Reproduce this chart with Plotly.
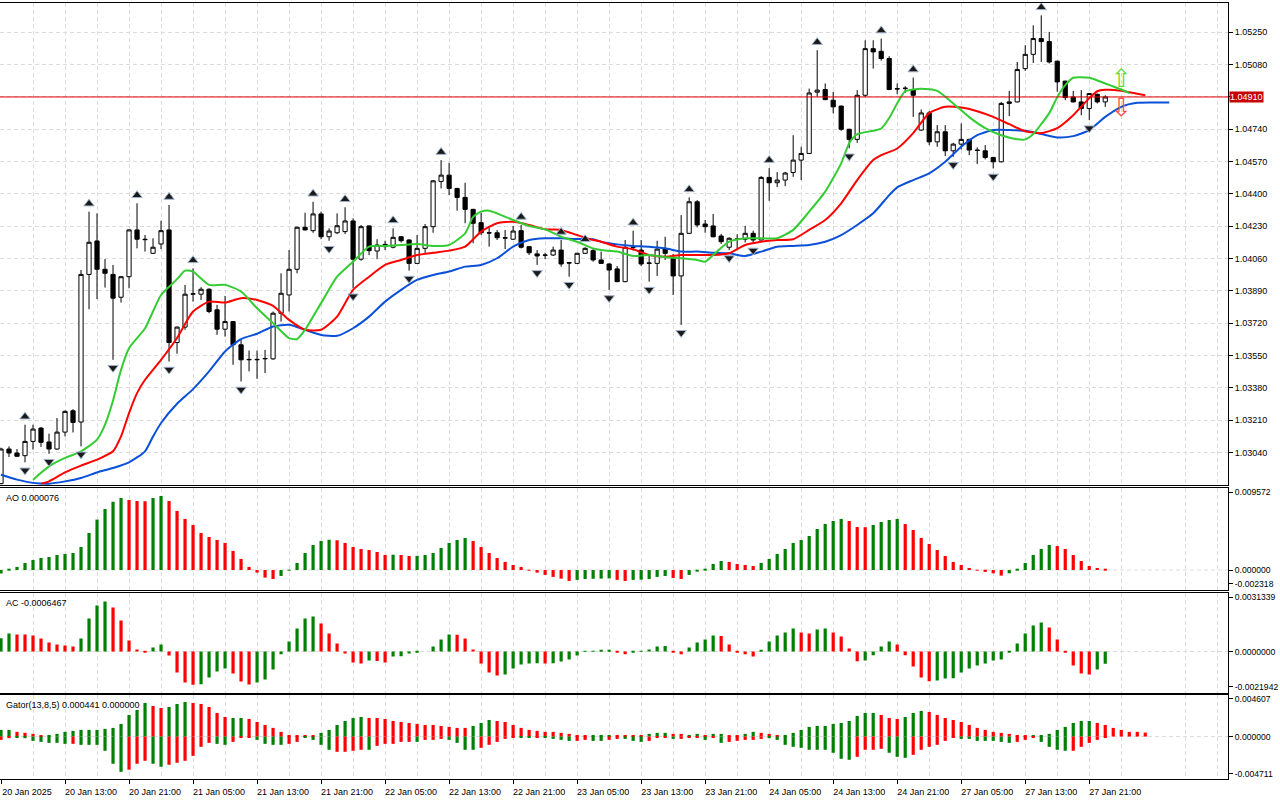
import plotly.graph_objects as go
from plotly.subplots import make_subplots

# ---------------------------------------------------------------- data
# EURUSD H1 candles, bar index 0 .. 138
opens = [1.02877, 1.03059, 1.03038, 1.03024, 1.03099, 1.03169, 1.03096, 1.03059, 1.03148, 1.03260,
         1.03201, 1.03977, 1.04153, 1.04004, 1.03977, 1.03857, 1.03965, 1.04211, 1.04162, 1.04088,
         1.04137, 1.04211, 1.03619, 1.03700, 1.03873, 1.03873, 1.03899, 1.03791, 1.03689, 1.03729,
         1.03607, 1.03528, 1.03528, 1.03533, 1.03533, 1.03773, 1.03869, 1.04004, 1.04225, 1.04207,
         1.04295, 1.04175, 1.04196, 1.04202, 1.04258, 1.04057, 1.04232, 1.04100, 1.04135, 1.04120,
         1.04175, 1.04158, 1.04035, 1.04114, 1.04228, 1.04466, 1.04499, 1.04429, 1.04382, 1.04319,
         1.04249, 1.04196, 1.04196, 1.04170, 1.04162, 1.04207, 1.04123, 1.04085, 1.04079, 1.04079,
         1.04105, 1.04039, 1.04035, 1.04088, 1.04102, 1.04053, 1.04032, 1.04006, 1.03939, 1.04120,
         1.04105, 1.04035, 1.04035, 1.04110, 1.04062, 1.03969, 1.04193, 1.04359, 1.04242, 1.04232,
         1.04179, 1.04120, 1.04162, 1.04162, 1.04193, 1.04158, 1.04487, 1.04459, 1.04473, 1.04513,
         1.04578, 1.04613, 1.04935, 1.04949, 1.04893, 1.04862, 1.04740, 1.04687, 1.04919, 1.05164,
         1.05150, 1.05112, 1.04954, 1.04954, 1.04949, 1.04736, 1.04826, 1.04674, 1.04727, 1.04627,
         1.04662, 1.04687, 1.04631, 1.04627, 1.04592, 1.04569, 1.04876, 1.04884, 1.05059, 1.05134,
         1.05217, 1.05201, 1.05098, 1.04993, 1.04910, 1.04884, 1.04849, 1.04924, 1.04884]
highs = [1.03066, 1.03073, 1.03059, 1.03187, 1.03187, 1.03175, 1.03140, 1.03222, 1.03262, 1.03269,
         1.04000, 1.04307, 1.04298, 1.04058, 1.04027, 1.03968, 1.04214, 1.04351, 1.04184, 1.04167,
         1.04259, 1.04342, 1.03703, 1.03922, 1.04009, 1.03910, 1.03904, 1.03817, 1.03864, 1.03732,
         1.03633, 1.03577, 1.03577, 1.03580, 1.03782, 1.03983, 1.04105, 1.04228, 1.04301, 1.04359,
         1.04307, 1.04219, 1.04298, 1.04330, 1.04272, 1.04237, 1.04235, 1.04162, 1.04154, 1.04219,
         1.04179, 1.04162, 1.04184, 1.04242, 1.04473, 1.04578, 1.04564, 1.04432, 1.04459, 1.04322,
         1.04301, 1.04232, 1.04211, 1.04211, 1.04232, 1.04237, 1.04126, 1.04105, 1.04091, 1.04123,
         1.04158, 1.04042, 1.04091, 1.04120, 1.04114, 1.04097, 1.04035, 1.04021, 1.04158, 1.04207,
         1.04158, 1.04079, 1.04154, 1.04175, 1.04085, 1.04289, 1.04382, 1.04368, 1.04263, 1.04295,
         1.04190, 1.04172, 1.04188, 1.04232, 1.04207, 1.04494, 1.04536, 1.04515, 1.04516, 1.04709,
         1.04648, 1.04954, 1.05156, 1.04981, 1.04937, 1.04865, 1.04743, 1.04946, 1.05208, 1.05208,
         1.05217, 1.05124, 1.04981, 1.04967, 1.05012, 1.04844, 1.04837, 1.04762, 1.04762, 1.04669,
         1.04771, 1.04690, 1.04645, 1.04657, 1.04595, 1.04884, 1.04942, 1.05094, 1.05182, 1.05287,
         1.05339, 1.05252, 1.05101, 1.04996, 1.04942, 1.04946, 1.04931, 1.04928, 1.04919]
lows = [1.02874, 1.03017, 1.03017, 1.02989, 1.03056, 1.03070, 1.03034, 1.03055, 1.03125, 1.03146,
        1.03073, 1.03794, 1.03847, 1.03908, 1.03528, 1.03829, 1.03904, 1.04114, 1.04097, 1.04085,
        1.04110, 1.03519, 1.03560, 1.03686, 1.03834, 1.03843, 1.03773, 1.03659, 1.03650, 1.03502,
        1.03414, 1.03467, 1.03428, 1.03458, 1.03528, 1.03729, 1.03782, 1.03983, 1.04208, 1.04196,
        1.04162, 1.04154, 1.04189, 1.04189, 1.03904, 1.04049, 1.04079, 1.04057, 1.04105, 1.04114,
        1.04145, 1.03997, 1.04032, 1.04091, 1.04196, 1.04429, 1.04394, 1.04312, 1.04246, 1.04141,
        1.04184, 1.04123, 1.04158, 1.04110, 1.04158, 1.04114, 1.04079, 1.04027, 1.04057, 1.04074,
        1.04018, 1.03965, 1.04032, 1.04085, 1.04044, 1.04032, 1.03895, 1.03936, 1.03936, 1.04102,
        1.04021, 1.03939, 1.03969, 1.04053, 1.03869, 1.03712, 1.04190, 1.04225, 1.04196, 1.04172,
        1.04137, 1.04105, 1.04105, 1.04145, 1.04145, 1.04155, 1.04364, 1.04436, 1.04441, 1.04490,
        1.04473, 1.04610, 1.04910, 1.04893, 1.04823, 1.04732, 1.04640, 1.04669, 1.04910, 1.05059,
        1.05101, 1.04946, 1.04925, 1.04931, 1.04805, 1.04732, 1.04657, 1.04648, 1.04599, 1.04595,
        1.04634, 1.04604, 1.04557, 1.04582, 1.04534, 1.04566, 1.04809, 1.04881, 1.05047, 1.05089,
        1.05094, 1.05086, 1.04937, 1.04893, 1.04881, 1.04814, 1.04788, 1.04876, 1.04858]
closes = [1.03059, 1.03038, 1.03021, 1.03099, 1.03164, 1.03094, 1.03059, 1.03148, 1.03257, 1.03199,
          1.03977, 1.04146, 1.04004, 1.03983, 1.03852, 1.03965, 1.04211, 1.04162, 1.04160, 1.04120,
          1.04207, 1.03619, 1.03700, 1.03873, 1.03875, 1.03899, 1.03782, 1.03689, 1.03729, 1.03607,
          1.03528, 1.03530, 1.03530, 1.03535, 1.03773, 1.03878, 1.04004, 1.04225, 1.04211, 1.04295,
          1.04175, 1.04205, 1.04233, 1.04258, 1.04057, 1.04228, 1.04102, 1.04132, 1.04123, 1.04172,
          1.04154, 1.04035, 1.04114, 1.04228, 1.04469, 1.04499, 1.04429, 1.04382, 1.04319, 1.04246,
          1.04196, 1.04195, 1.04170, 1.04168, 1.04205, 1.04120, 1.04091, 1.04074, 1.04078, 1.04105,
          1.04032, 1.04037, 1.04088, 1.04114, 1.04053, 1.04035, 1.04000, 1.03939, 1.04120, 1.04121,
          1.04032, 1.04037, 1.04110, 1.04088, 1.03969, 1.04193, 1.04359, 1.04237, 1.04228, 1.04175,
          1.04149, 1.04167, 1.04163, 1.04193, 1.04158, 1.04487, 1.04459, 1.04473, 1.04510, 1.04578,
          1.04613, 1.04931, 1.04946, 1.04896, 1.04858, 1.04740, 1.04687, 1.04919, 1.05164, 1.05147,
          1.05112, 1.04949, 1.04952, 1.04956, 1.04919, 1.04826, 1.04674, 1.04727, 1.04627, 1.04662,
          1.04687, 1.04631, 1.04629, 1.04592, 1.04569, 1.04876, 1.04884, 1.05054, 1.05134, 1.05217,
          1.05201, 1.05094, 1.04989, 1.04907, 1.04884, 1.04849, 1.04928, 1.04884, 1.04910]

# Alligator lines (bar index, price) - jaw/teeth/lips are shifted forward
jaw_x = [0, 2, 4, 6, 8, 10, 12, 14, 16, 18, 19, 20, 22, 24, 26, 28, 30, 32, 34, 36, 38, 40,
         42, 44, 46, 48, 50, 52, 54, 56, 58, 60, 62, 64, 66, 68, 70, 72, 74, 75, 77, 79, 81, 83,
         85, 87, 89, 91, 93, 95, 97, 99, 101, 103, 105, 107, 109, 111, 112, 114, 116, 118, 120,
         122, 124, 126, 128, 130, 132, 134, 136, 138, 140, 142, 144, 146]
jaw_y = [1.02924, 1.02898, 1.02881, 1.02877, 1.02889, 1.02907, 1.02936, 1.02959, 1.02989, 1.03047,
         1.03125, 1.03196, 1.03297, 1.03374, 1.03467, 1.03572, 1.03637, 1.03665, 1.03703, 1.03712,
         1.03686, 1.03659, 1.03654, 1.03694, 1.03755, 1.03834, 1.03896, 1.03948, 1.03974, 1.03992,
         1.04018, 1.04027, 1.04062, 1.04123, 1.04158, 1.04167, 1.04167, 1.04163, 1.04162, 1.04149,
         1.04135, 1.04127, 1.04123, 1.04114, 1.04097, 1.04097, 1.04091, 1.04088, 1.04074, 1.04097,
         1.04123, 1.04127, 1.04132, 1.04149, 1.04184, 1.04237, 1.04298, 1.04394, 1.04435, 1.04473,
         1.04508, 1.04569, 1.04648, 1.04709, 1.04736, 1.04736, 1.04732, 1.04715, 1.04697, 1.04704,
         1.04736, 1.04805, 1.04858, 1.04879, 1.04881, 1.04881]
teeth_x = [5, 6, 8, 10, 12, 14, 15, 16, 17, 18, 20, 22, 24, 26, 28, 30, 32, 34, 36, 38, 40, 42,
           44, 46, 48, 50, 52, 54, 56, 58, 60, 62, 64, 66, 68, 70, 72, 74, 75, 77, 79, 81, 83, 85,
           87, 89, 91, 93, 95, 97, 99, 101, 103, 105, 107, 109, 110, 112, 114, 116, 118, 120, 122,
           124, 126, 128, 130, 132, 134, 136, 137, 138, 140, 142, 143]
teeth_y = [1.02877, 1.02889, 1.02936, 1.02972, 1.03003, 1.03047, 1.03125, 1.03248, 1.03353, 1.03423,
           1.03528, 1.03643, 1.03782, 1.03834, 1.03829, 1.03852, 1.03843, 1.03812, 1.03738, 1.03686,
           1.03686, 1.03755, 1.03896, 1.03965, 1.04027, 1.04053, 1.04079, 1.04091, 1.04102, 1.04123,
           1.04202, 1.04246, 1.04254, 1.04237, 1.04214, 1.04211, 1.04184, 1.04158, 1.04149, 1.04123,
           1.04109, 1.04079, 1.04070, 1.04079, 1.04079, 1.04079, 1.04088, 1.04132, 1.04149, 1.04158,
           1.04162, 1.04211, 1.04263, 1.04351, 1.04473, 1.04578, 1.04604, 1.04639, 1.04720, 1.04825,
           1.04858, 1.04854, 1.04835, 1.04805, 1.04767, 1.04730, 1.04720, 1.04746, 1.04814, 1.04904,
           1.04940, 1.04948, 1.04943, 1.04927, 1.04919]
lips_x = [4, 6, 8, 10, 12, 13, 14, 15, 16, 18, 20, 22, 23, 24, 26, 28, 30, 32, 34, 36, 37, 38,
          40, 42, 44, 46, 48, 50, 52, 54, 56, 58, 59, 60, 61, 62, 64, 66, 68, 70, 72, 74, 75, 77,
          79, 81, 83, 85, 87, 88, 89, 91, 93, 95, 97, 99, 101, 103, 105, 106, 107, 109, 110, 111,
          112, 113, 115, 117, 119, 121, 123, 125, 127, 128, 129, 130, 131, 132, 133, 134, 136,
          138, 140, 141]
lips_y = [1.02898, 1.02968, 1.03012, 1.03047, 1.03108, 1.03187, 1.03314, 1.03475, 1.03589, 1.03694,
          1.03869, 1.03952, 1.03997, 1.03992, 1.03922, 1.03922, 1.03887, 1.03799, 1.03721, 1.03642,
          1.03637, 1.03686, 1.03826, 1.03965, 1.04044, 1.04123, 1.04127, 1.04132, 1.04137, 1.04127,
          1.04132, 1.04193, 1.04280, 1.04307, 1.04312, 1.04298, 1.04263, 1.04232, 1.04214, 1.04175,
          1.04149, 1.04114, 1.04105, 1.04097, 1.04074, 1.04079, 1.04067, 1.04062, 1.04053, 1.04044,
          1.04079, 1.04149, 1.04167, 1.04167, 1.04167, 1.04211, 1.04307, 1.04412, 1.04561, 1.04667,
          1.04714, 1.04732, 1.04744, 1.04799, 1.04877, 1.04940, 1.04953, 1.04942, 1.04876, 1.04804,
          1.04746, 1.04709, 1.04688, 1.04687, 1.04715, 1.04767, 1.04825, 1.04909, 1.04972, 1.05011,
          1.05011, 1.04981, 1.04949, 1.04931]

# Fractal bars
fractal_up = [3, 11, 17, 21, 24, 39, 43, 49, 55, 65, 70, 73, 79, 86, 96, 102, 110, 114, 130]
fractal_dn = [3, 6, 10, 14, 21, 30, 41, 44, 51, 67, 71, 76, 81, 85, 91, 94, 106, 119, 124, 136]

# signal arrows at the right end
signal_bar = 140
signal_up_price = 1.04995
signal_dn_price = 1.04843

# Awesome Oscillator
ao = [-0.0004, 0.0001, 0.00036, 0.00082, 0.00117, 0.0014, 0.00152, 0.00175, 0.00187, 0.00198,
      0.00268, 0.00431, 0.00586, 0.0071, 0.00795, 0.00838, 0.00814, 0.00803, 0.00800, 0.00838,
      0.00861, 0.00803, 0.00687, 0.00594, 0.00524, 0.00431, 0.00384, 0.00349, 0.00315, 0.00222,
      0.00129, 0.00036, -0.0003, -0.00088, -0.00104, -0.00069, -0.00007, 0.00082, 0.00198, 0.00291,
      0.00338, 0.00352, 0.00346, 0.00315, 0.00268, 0.00245, 0.00233, 0.0021, 0.00175, 0.00178,
      0.00175, 0.00163, 0.00165, 0.00175, 0.00198, 0.00256, 0.00315, 0.00349, 0.00373, 0.00338,
      0.00268, 0.00198, 0.0014, 0.00094, 0.00059, 0.00036, 0.00001, -0.0003, -0.00057, -0.0008,
      -0.001, -0.00127, -0.00115, -0.00104, -0.00102, -0.00100, -0.00098, -0.00115, -0.00127, -0.00115,
      -0.00112, -0.00104, -0.0008, -0.00069, -0.00092, -0.00104, -0.00057, -0.00011, 0.00012, 0.0007,
      0.00105, 0.00094, 0.0007, 0.00059, 0.00047, 0.00082, 0.00129, 0.00187, 0.00245, 0.00315,
      0.00349, 0.00396, 0.00477, 0.00535, 0.0057, 0.00594, 0.0057, 0.005, 0.00498, 0.00524,
      0.00559, 0.00582, 0.00594, 0.00535, 0.00466, 0.00373, 0.00303, 0.00233, 0.00163, 0.00094,
      0.00059, 0.00024, -0.00003, -0.00022, -0.00038, -0.00065, -0.00038, 0.00012, 0.00082, 0.00175,
      0.00245, 0.00291, 0.00279, 0.00245, 0.00175, 0.00105, 0.00047, 0.00024, 0.000076]
ao_range = [-0.002318, 0.009572]

# Accelerator Oscillator
ac = [0.00071, 0.00096, 0.00091, 0.00090, 0.00085, 0.00069, 0.00048, 0.00037, 0.00032, 0.00027,
      0.00069, 0.00176, 0.00245, 0.00266, 0.00234, 0.00165, 0.00059, 0.00011, -0.00001, 0.00021,
      0.00037, -0.00021, -0.00112, -0.00165, -0.00177, -0.00175, -0.00139, -0.00107, -0.00091, -0.00117,
      -0.0016, -0.00176, -0.00165, -0.00149, -0.00096, -0.00014, 0.00053, 0.00123, 0.00176, 0.00186,
      0.00149, 0.00096, 0.00043, -0.00011, -0.00059, -0.00064, -0.00048, -0.0005, -0.00059, -0.00027,
      -0.00025, -0.00011, -0.00004, 0.0, 0.00027, 0.00064, 0.00091, 0.00089, 0.00069, 0.00011,
      -0.00064, -0.00112, -0.00128, -0.00123, -0.00091, -0.00069, -0.00064, -0.00062, -0.00064, -0.00063,
      -0.00053, -0.00043, -0.00021, 0.00002, 0.00004, 0.00005, 0.00006, -0.00005, -0.00014, -0.00004,
      0.00001, 0.00011, 0.00027, 0.00029, -0.00005, -0.00014, 0.00021, 0.00048, 0.00064, 0.00085,
      0.00083, 0.00037, -0.00005, -0.00014, -0.00027, 0.00005, 0.00053, 0.00085, 0.00101, 0.00123,
      0.00101, 0.00096, 0.00117, 0.00123, 0.00101, 0.0008, 0.00016, -0.00052, -0.00048, -0.0002,
      0.00027, 0.00053, 0.00037, -0.0002, -0.0008, -0.00139, -0.00158, -0.00155, -0.00144, -0.00142,
      -0.00112, -0.00091, -0.00075, -0.00064, -0.00048, -0.00043, -0.00004, 0.00043, 0.00096, 0.00139,
      0.00155, 0.00128, 0.00064, -0.00002, -0.00075, -0.00117, -0.00123, -0.00096, -0.0006467]
ac_range = [-0.0021942, 0.0031339]

# Gator oscillator (upper / lower histograms), with MT5 bar colours g / r
gator_up = [0.00074, 0.00074, 0.00052, 0.00041, 0.0003, 0.00007, 0.00018, 0.0003, 0.00052, 0.00063,
            0.00074, 0.00074, 0.00074, 0.00085, 0.00096, 0.0014, 0.0024, 0.00295, 0.00372, 0.00339,
            0.00317, 0.00328, 0.00361, 0.00383, 0.00372, 0.00361, 0.00328, 0.00262, 0.00217, 0.00206,
            0.00206, 0.00195, 0.00162, 0.00129, 0.00096, 0.00052, 0.00018, 0.00007, 0.00018, 0.00007,
            0.00041, 0.00074, 0.00129, 0.00173, 0.00206, 0.00217, 0.00206, 0.00206, 0.00195, 0.00173,
            0.00162, 0.00151, 0.0014, 0.00129, 0.00129, 0.00118, 0.00107, 0.00096, 0.00096, 0.00118,
            0.00151, 0.00184, 0.00173, 0.00162, 0.00129, 0.00096, 0.00074, 0.00063, 0.00052, 0.00052,
            0.00041, 0.0003, 0.00018, 0.00007, 0.00007, 0.00018, 0.00018, 0.00018, 0.00018, 0.00018,
            0.00018, 0.0003, 0.00041, 0.00041, 0.0003, 0.0003, 0.00018, 0.0003, 0.00018, 0.0003,
            0.0003, 0.00007, 0.00007, 0.0003, 0.00052, 0.00041, 0.0003, 0.00018, 0.00018, 0.00041,
            0.00074, 0.00107, 0.00118, 0.00118, 0.0014, 0.00151, 0.00173, 0.00228, 0.00262, 0.00262,
            0.0024, 0.00206, 0.00195, 0.00217, 0.00262, 0.00284, 0.00273, 0.0024, 0.00206, 0.00184,
            0.00162, 0.00129, 0.00096, 0.00074, 0.00052, 0.00041, 0.0003, 0.00018, 0.00007, 0.00007,
            0.00007, 0.0003, 0.00074, 0.00107, 0.00151, 0.00173, 0.00173, 0.00151, 0.00129, 0.00096,
            0.00074, 0.00052, 0.00052, 0.000441]
gator_up_dir = ("ggrrrrgggg" "gggggggggr" "rgggrrrrrg" "grrrrrrrrr" "ggggggrrrr"
                "rrrrrrrrrg" "ggrrrrrrrr" "rrrrgggrrr" "rgggrrggrg" "grrggrrrgg"
                "gggggggggg" "rrrgggrrrr" "rrrrrrrrrg" "gggggggrrr" "rrrr")
gator_dn = [-0.00037, -0.00018, -0.0001, -0.00018, -0.00048, -0.00059, -0.0007, -0.0007, -0.00081, -0.00081,
            -0.00092, -0.00092, -0.00092, -0.00158, -0.00302, -0.00391, -0.00368, -0.00302, -0.00269, -0.00302,
            -0.00335, -0.00313, -0.00291, -0.00269, -0.00214, -0.00114, -0.0007, -0.00081, -0.00092, -0.00059,
            -0.00011, -0.00011, -0.00037, -0.00081, -0.00092, -0.00092, -0.00081, -0.00059, -0.0001, -0.00037,
            -0.00092, -0.00147, -0.00169, -0.00169, -0.00158, -0.00147, -0.00147, -0.00103, -0.00081, -0.00081,
            -0.00059, -0.00059, -0.00059, -0.00037, -0.00037, -0.00026, -0.00037, -0.0007, -0.00147, -0.00147,
            -0.00125, -0.00092, -0.00059, -0.00026, -0.00011, -0.00011, -0.00011, -0.00011, -0.00011, -0.00026,
            -0.00037, -0.00048, -0.00048, -0.00037, -0.00048, -0.00048, -0.00037, -0.00026, -0.00026, -0.00048,
            -0.00059, -0.00048, -0.00011, -0.00011, -0.00026, -0.00026, -0.00011, -0.00011, -0.00037, -0.00011,
            -0.0007, -0.00059, -0.00048, -0.00037, -0.00037, -0.00026, -0.00018, -0.00037, -0.00092, -0.00114,
            -0.00125, -0.00147, -0.00147, -0.00147, -0.0018, -0.00247, -0.00258, -0.00225, -0.00147, -0.00147,
            -0.00136, -0.0018, -0.00225, -0.00236, -0.00203, -0.00147, -0.00114, -0.00092, -0.00048, -0.00011,
            -0.00026, -0.00026, -0.00048, -0.00048, -0.00048, -0.00059, -0.0007, -0.00059, -0.00037, -0.00011,
            -0.00059, -0.00114, -0.00147, -0.00158, -0.00158, -0.00114, -0.0007, -0.00037, -0.00011, 0.0,
            0.0, 0.0]
gator_dn_dir = ("rrgggggggr" "ggggggrrrg" "grrrrrrggr" "rrggggrrgg" "ggrrrrgrrr"
                "rrgrrrgggg" "rrrrrggrgg" "ggrrggrrgg" "grrrgrrrgr" "grrrrrgggg"
                "gggggggrrr" "rgggrrrrrr" "gggggggrrr" "ggggrrrrrr" "rr")
gator_range = [-0.004711, 0.004607]

# axis labels
tick_bars = [0, 8, 16, 24, 32, 40, 48, 56, 64, 72, 80, 88, 96, 104, 112, 120, 128, 136]
tick_labels = ["20 Jan 2025", "20 Jan 13:00", "20 Jan 21:00", "21 Jan 05:00", "21 Jan 13:00",
               "21 Jan 21:00", "22 Jan 05:00", "22 Jan 13:00", "22 Jan 21:00", "23 Jan 05:00",
               "23 Jan 13:00", "23 Jan 21:00", "24 Jan 05:00", "24 Jan 13:00", "24 Jan 21:00",
               "27 Jan 05:00", "27 Jan 13:00", "27 Jan 21:00"]
price_ticks = [1.03040, 1.03210, 1.03380, 1.03550, 1.03720, 1.03890, 1.04060,
               1.04230, 1.04400, 1.04570, 1.04740, 1.04910, 1.05080, 1.05250]
price_range = [1.02870, 1.05404]

# ---------------------------------------------------------------- style
FONT = "Liberation Sans"
GREEN = "#008000"
RED = "#ff0000"
GRID = "#dcdcdc"
DASH = "4px,3px"
BAR_W = 0.4
X_RANGE = [-0.125, 153.34]


def trend_colors(values):
    cols = [GREEN]
    for prev, cur in zip(values[:-1], values[1:]):
        cols.append(GREEN if cur > prev else RED)
    return cols


def dir_colors(flags):
    return [GREEN if f == "g" else RED for f in flags]


def edge_ticks(rng, fmt):
    lo, hi = rng
    span = hi - lo
    vals = [hi - 0.045 * span, 0.0, lo + 0.06 * span]
    text = [fmt.format(hi), fmt.format(0.0), fmt.format(lo)]
    return vals, text


bars = list(range(len(closes)))

fig = make_subplots(rows=4, cols=1, shared_xaxes=True, vertical_spacing=0.0)

# price panel
fig.add_trace(go.Candlestick(
    x=bars, open=opens, high=highs, low=lows, close=closes,
    increasing=dict(line=dict(color="black", width=1), fillcolor="white"),
    decreasing=dict(line=dict(color="black", width=1), fillcolor="black"),
    whiskerwidth=0, hoverinfo="skip", showlegend=False), row=1, col=1)

for xs, ys, col in [(jaw_x, jaw_y, "#0a50d8"), (teeth_x, teeth_y, "#ff0000"),
                    (lips_x, lips_y, "#33cc33")]:
    fig.add_trace(go.Scatter(x=xs, y=ys, mode="lines",
                             line=dict(color=col, width=2, shape="spline", smoothing=0.6),
                             hoverinfo="skip", showlegend=False), row=1, col=1)

pad = 0.00042
fig.add_trace(go.Scatter(x=fractal_up, y=[highs[i] + pad for i in fractal_up], mode="markers",
                         marker=dict(symbol="triangle-up", size=9, color="#1a1a1a",
                                     line=dict(color="#9fb3cc", width=1)),
                         hoverinfo="skip", showlegend=False), row=1, col=1)
fig.add_trace(go.Scatter(x=fractal_dn, y=[lows[i] - pad for i in fractal_dn], mode="markers",
                         marker=dict(symbol="triangle-down", size=9, color="#1a1a1a",
                                     line=dict(color="#9fb3cc", width=1)),
                         hoverinfo="skip", showlegend=False), row=1, col=1)

fig.add_trace(go.Scatter(x=[signal_bar], y=[signal_up_price], mode="text", text=["\u21e7"],
                         textfont=dict(family="DejaVu Sans", size=25, color="#5fd83a"),
                         hoverinfo="skip", showlegend=False), row=1, col=1)
fig.add_trace(go.Scatter(x=[signal_bar], y=[signal_dn_price], mode="text", text=["\u21e9"],
                         textfont=dict(family="DejaVu Sans", size=25, color="#ff4a4a"),
                         hoverinfo="skip", showlegend=False), row=1, col=1)

fig.add_hline(y=closes[-1], line=dict(color="#e00000", width=1), row=1, col=1)

# indicator panels
fig.add_trace(go.Bar(x=bars, y=ao, width=BAR_W, marker=dict(color=trend_colors(ao), line_width=0),
                     hoverinfo="skip", showlegend=False), row=2, col=1)
fig.add_trace(go.Bar(x=bars, y=ac, width=BAR_W, marker=dict(color=trend_colors(ac), line_width=0),
                     hoverinfo="skip", showlegend=False), row=3, col=1)
fig.add_trace(go.Bar(x=list(range(len(gator_up))), y=gator_up, width=BAR_W,
                     marker=dict(color=dir_colors(gator_up_dir), line_width=0),
                     hoverinfo="skip", showlegend=False), row=4, col=1)
fig.add_trace(go.Bar(x=list(range(len(gator_dn))), y=gator_dn, width=BAR_W,
                     marker=dict(color=dir_colors(gator_dn_dir), line_width=0),
                     hoverinfo="skip", showlegend=False), row=4, col=1)

for r in (2, 3, 4):
    fig.add_hline(y=0, line=dict(color=GRID, width=1, dash=DASH), layer="below", row=r, col=1)

# ---------------------------------------------------------------- layout
fig.update_layout(
    width=1280, height=800,
    margin=dict(l=0, r=52, t=3, b=21),
    paper_bgcolor="white", plot_bgcolor="white",
    font=dict(family=FONT, size=9, color="black"),
    showlegend=False, hovermode=False,
    boxgap=0.25, boxgroupgap=0.3, barmode="overlay",
    yaxis=dict(domain=[0.3789, 1.0]),
    yaxis2=dict(domain=[0.2436, 0.3754]),
    yaxis3=dict(domain=[0.1112, 0.2401]),
    yaxis4=dict(domain=[0.0, 0.1082]),
)

fig.update_xaxes(range=X_RANGE, tickmode="array", tickvals=tick_bars, ticktext=tick_labels,
                 showgrid=True, gridcolor=GRID, griddash=DASH, gridwidth=1,
                 minor=dict(tickmode="array", tickvals=[b + 4 for b in tick_bars] + [148, 152],
                            showgrid=True, gridcolor=GRID, griddash=DASH, gridwidth=1, ticks=""),
                 showline=True, linecolor="black", linewidth=1, mirror=True, zeroline=False,
                 showticklabels=False, ticks="", rangeslider_visible=False, fixedrange=True)
fig.update_xaxes(showticklabels=True, ticks="outside", ticklen=4, tickcolor="black",
                 ticklabelshift=26, tickfont=dict(family=FONT, size=9, color="black"),
                 row=4, col=1)

fig.update_yaxes(side="right", showline=True, linecolor="black", linewidth=1, mirror=True,
                 zeroline=False, ticks="outside", ticklen=4, tickcolor="black",
                 tickfont=dict(family=FONT, size=9, color="black"), fixedrange=True)
# the current price tag replaces the ordinary label at that level
price_text = ["" if abs(p - closes[-1]) < 1e-9 else "{:.5f}".format(p) for p in price_ticks]
fig.update_yaxes(range=price_range, tickmode="array", tickvals=price_ticks, ticktext=price_text,
                 showgrid=True, gridcolor=GRID, griddash=DASH, gridwidth=1, row=1, col=1)

for r, rng, fmt in [(2, ao_range, "{:.6f}"), (3, ac_range, "{:.7f}"), (4, gator_range, "{:.6f}")]:
    vals, text = edge_ticks(rng, fmt)
    fig.update_yaxes(range=rng, tickmode="array", tickvals=vals, ticktext=text,
                     showgrid=False, tickfont=dict(family=FONT, size=8.6, color="black"),
                     row=r, col=1)

# current price tag
fig.add_annotation(xref="paper", x=1, xanchor="left", xshift=1, yref="y", y=closes[-1],
                   text="{:.5f}".format(closes[-1]), showarrow=False, bgcolor="#c80000",
                   borderpad=0, font=dict(family=FONT, size=9, color="white"))

# indicator captions
captions = [
    ("y2", "AO {:.6f}".format(ao[-1])),
    ("y3", "AC {:.7f}".format(ac[-1])),
    ("y4", "Gator(13,8,5) {:.6f} {:.6f}".format(gator_up[-1], abs(gator_dn[-1]))),
]
for yref, txt in captions:
    fig.add_annotation(xref="paper", x=0, xanchor="left", xshift=4,
                       yref=yref + " domain", y=1, yanchor="top", yshift=-3,
                       text=txt, showarrow=False, font=dict(family=FONT, size=9, color="black"))

# drop the browser's default page margin so the figure fills the window
fig.write_html("out.html", config={"displayModeBar": False},
               post_script="document.body.style.margin = '0px';")
